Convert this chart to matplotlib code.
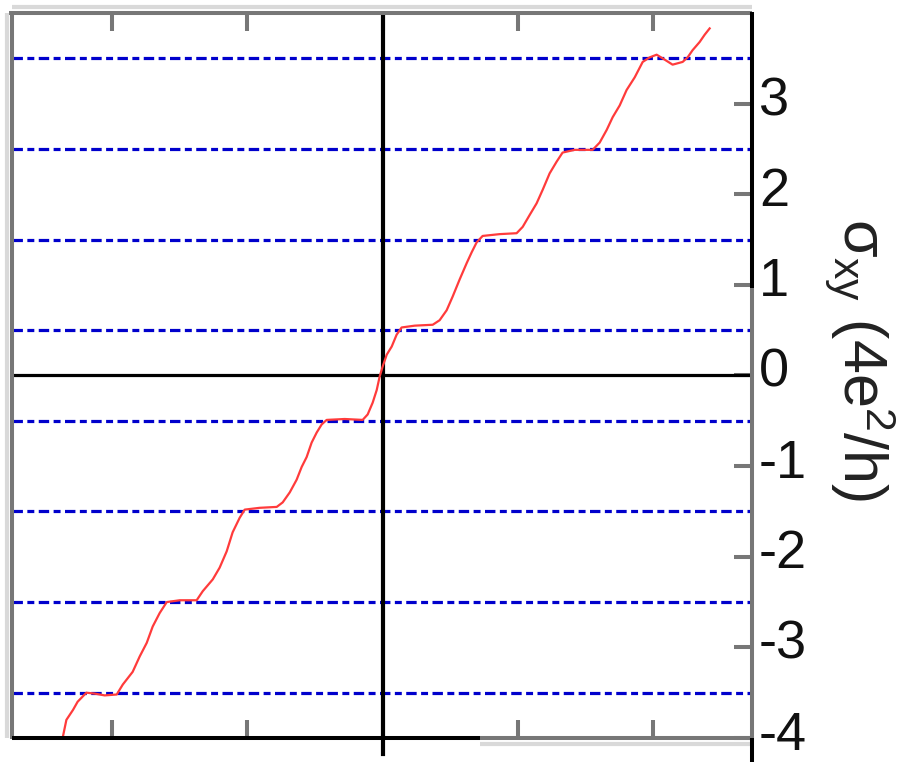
import matplotlib
matplotlib.use("Agg")
import matplotlib.pyplot as plt
import matplotlib.transforms as mtransforms

plt.rcParams['font.family'] = ['Liberation Sans', 'DejaVu Sans']
plt.rcParams['axes.unicode_minus'] = False
plt.rcParams['mathtext.fontset'] = 'custom'
plt.rcParams['mathtext.rm'] = 'Liberation Sans'
plt.rcParams['mathtext.it'] = 'Liberation Sans:italic'
plt.rcParams['mathtext.sf'] = 'Liberation Sans'
plt.rcParams['lines.scale_dashes'] = False

# Hall conductivity trace (gate axis in arbitrary units)
gate = [-2.363, -2.338, -2.289, -2.255, -2.190, -2.129, -2.055, -1.966, -1.921,
        -1.848, -1.796, -1.744, -1.700, -1.648, -1.596, -1.500, -1.375, -1.330,
        -1.256, -1.205, -1.153, -1.109, -1.057, -1.020, -0.909, -0.783, -0.739,
        -0.687, -0.636, -0.599, -0.562, -0.525, -0.488, -0.451, -0.414, -0.281,
        -0.148, -0.111, -0.074, -0.044, -0.022, 0.000, 0.030, 0.067, 0.103,
        0.140, 0.237, 0.370, 0.421, 0.473, 0.517, 0.569, 0.621, 0.658, 0.695,
        0.739, 0.865, 0.990, 1.035, 1.086, 1.138, 1.183, 1.234, 1.286, 1.330,
        1.419, 1.552, 1.604, 1.656, 1.700, 1.752, 1.803, 1.863, 1.922, 1.973,
        2.025, 2.069, 2.143, 2.217, 2.254, 2.291, 2.343, 2.380, 2.417]
sigma_xy = [-3.98, -3.80, -3.69, -3.60, -3.50, -3.51, -3.53, -3.52, -3.41,
            -3.27, -3.10, -2.95, -2.77, -2.62, -2.50, -2.48, -2.48, -2.38,
            -2.25, -2.12, -1.94, -1.73, -1.57, -1.48, -1.46, -1.45, -1.40,
            -1.29, -1.15, -1.01, -0.90, -0.74, -0.63, -0.54, -0.49, -0.48,
            -0.49, -0.43, -0.30, -0.16, -0.01, 0.10, 0.23, 0.32, 0.45,
            0.53, 0.55, 0.56, 0.61, 0.72, 0.87, 1.06, 1.24, 1.36, 1.47,
            1.54, 1.56, 1.57, 1.64, 1.77, 1.90, 2.05, 2.23, 2.36, 2.46,
            2.49, 2.49, 2.57, 2.71, 2.85, 2.98, 3.15, 3.29, 3.46, 3.51,
            3.54, 3.50, 3.43, 3.46, 3.51, 3.59, 3.68, 3.76, 3.83]

# Half-integer quantization levels
plateau_levels = [-3.5, -2.5, -1.5, -0.5, 0.5, 1.5, 2.5, 3.5]

x_ticks = [-2, -1, 0, 1, 2]
y_ticks = [-4, -3, -2, -1, 0, 1, 2, 3]
y_ticklabels = ['-4', '-3', '-2', '-1', '0', '1', '2', '3']

W, H = 897, 762
fig = plt.figure(figsize=(W / 100, H / 100), dpi=100)
ax = fig.add_axes([12 / W, 1 - 738 / H, (752 - 12) / W, (738 - 13) / H])
ax.set_xlim(-2.74, 2.73)
ax.set_ylim(-4, 4)

gray = '#777777'
light = '#d9d9d9'

for lev in plateau_levels:
    ax.axhline(lev, color='#0000cc', lw=2.3, ls=(0, (7.5, 3.2, 5.0, 3.2)), zorder=2)

ax.axhline(0, color='black', lw=2.3, zorder=3)
ax.axvline(0, color='black', lw=3.0, zorder=3)
ax.plot([0, 0], [-4, -4.18], color='black', lw=3.0, clip_on=False, zorder=3)

ax.plot(gate, sigma_xy, color='#ff3b3b', lw=1.6, zorder=4)

# frame
for s in ax.spines.values():
    s.set_visible(False)
kw = dict(transform=ax.transAxes, clip_on=False, solid_capstyle='butt', zorder=5)
ax.plot([0, 1], [1.008, 1.008], color=light, lw=3, **kw)
ax.plot([-0.004, 1], [1, 1], color=gray, lw=2.9, **kw)
ax.plot([-0.0065, -0.0065], [0, 1], color=light, lw=3, **kw)
ax.plot([0, 0], [-0.002, 1.002], color=gray, lw=2.9, **kw)
ax.plot([0, 0.632], [0, 0], color='black', lw=2.9, **kw)
ax.plot([0.632, 1], [0, 0], color=gray, lw=2.9, **kw)
ax.plot([0.632, 1], [-0.008, -0.008], color=light, lw=3, **kw)
ax.plot([1, 1], [0.621, 1.002], color='black', lw=2.9, **kw)
ax.plot([1, 1], [0, 0.621], color=gray, lw=2.9, **kw)
ax.plot([1, 1], [-0.033, 0], color='black', lw=2.9, **kw)

ax.set_xticks(x_ticks)
ax.tick_params(axis='x', which='both', direction='in', top=True, bottom=True,
               labelbottom=False, labeltop=False, length=13, width=2.9, color=gray)
ax.yaxis.tick_right()
ax.set_yticks(y_ticks)
ax.set_yticklabels(y_ticklabels)
ax.tick_params(axis='y', which='both', direction='in', left=False, right=True,
               length=13, width=2.9, color=gray, labelsize=39, pad=5,
               labelcolor='#111111')

# nudge the right-hand tick labels slightly upward
shift = mtransforms.ScaledTranslation(0, 8 / 100, fig.dpi_scale_trans)
for lbl in ax.get_yticklabels():
    lbl.set_transform(lbl.get_transform() + shift)

fig.text(860 / W, 1 - 360 / H, r'$\mathregular{\sigma_{xy}}$ (4e$\mathregular{^2}$/h)',
         rotation=-90, ha='center', va='center', fontsize=44, color='#222222')

fig.savefig('out.png', dpi=100, facecolor='white')
